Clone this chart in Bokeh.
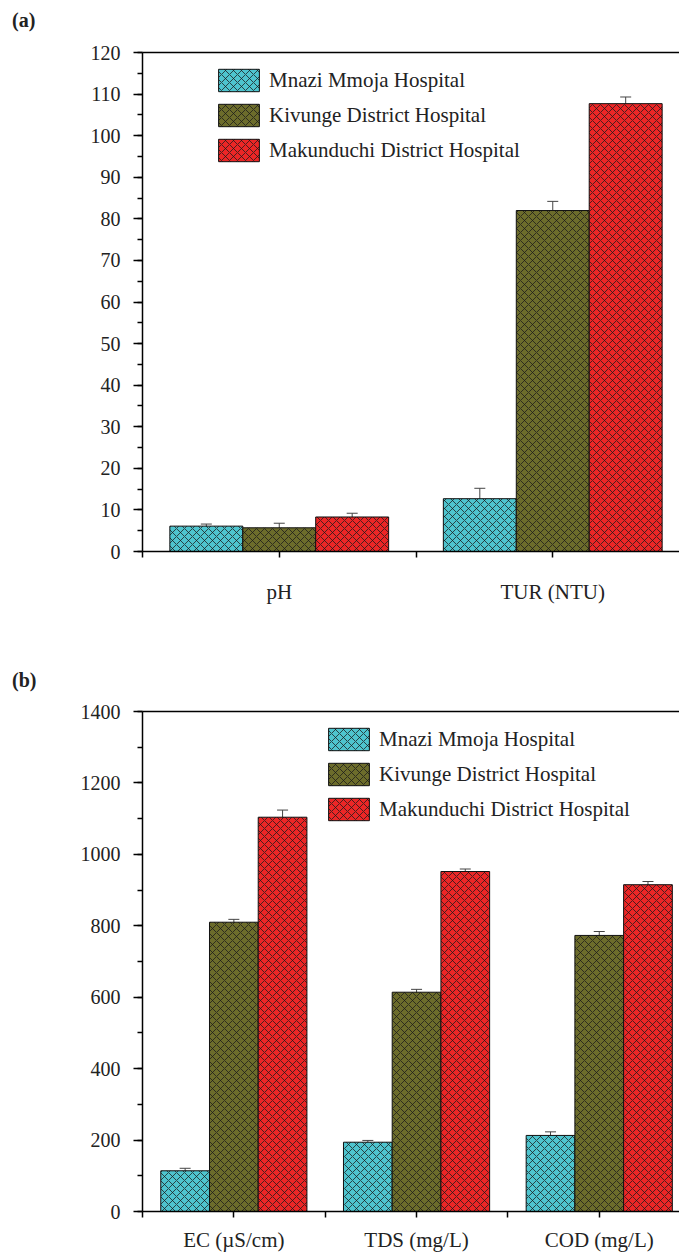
from bokeh.plotting import figure
from bokeh.models import (ColumnDataSource, Whisker, TeeHead, FixedTicker, SingleIntervalTicker,
                          LinearAxis, Legend, LegendItem, Range1d, Div)
from bokeh.layouts import column
from bokeh.embed import file_html
from bokeh.resources import INLINE

hospitals = ["Mnazi Mmoja Hospital", "Kivunge District Hospital", "Makunduchi District Hospital"]
colors = ["#4EC4CE", "#6C6C2B", "#EC2626"]

params_a = ["pH", "TUR (NTU)"]
mnazi_a = [6.1, 12.7]
mnazi_a_err = [0.5, 2.5]
kivunge_a = [5.7, 82.0]
kivunge_a_err = [1.1, 2.2]
makun_a = [8.3, 107.7]
makun_a_err = [0.9, 1.6]

params_b = ["EC (\u00b5S/cm)", "TDS (mg/L)", "COD (mg/L)"]
mnazi_b = [114, 194, 213]
mnazi_b_err = [7, 5, 10]
kivunge_b = [810, 614, 773]
kivunge_b_err = [8, 8, 11]
makun_b = [1104, 952, 915]
makun_b_err = [20, 7, 9]

FONT = "Liberation Serif"
TXT = "#222222"


def make_tag(tag):
    return Div(text="<b>%s</b>" % tag, width=679, height=40, margin=0,
               styles={"font-family": FONT, "font-size": "20px", "color": TXT,
                       "padding-left": "12px", "padding-top": "9px", "line-height": "23px",
                       "box-sizing": "border-box"})


def make_panel(params, series, errs, ymax, yint, xend, height, top, bottom, legend_loc, label_standoff):
    p = figure(width=679, height=height, output_backend="svg", toolbar_location=None,
               x_range=Range1d(0, xend), y_range=Range1d(0, ymax),
               min_border_left=142, min_border_right=0, min_border_top=top, min_border_bottom=bottom,
               x_axis_type=None, y_axis_type=None)
    p.title.visible = False
    p.outline_line_color = None
    p.xgrid.visible = False
    p.ygrid.visible = False
    p.background_fill_color = "white"
    p.border_fill_color = "white"

    w = 0.8 / 3
    offsets = [-w, 0.0, w]
    items = []
    for k, (vals, ev) in enumerate(zip(series, errs)):
        xs = [i + 0.5 + offsets[k] for i in range(len(params))]
        src = ColumnDataSource(dict(x=xs, top=vals, upper=[v + e for v, e in zip(vals, ev)],
                                    lower=[v - e for v, e in zip(vals, ev)]))
        r = p.vbar(x="x", top="top", width=w, bottom=0, source=src, fill_color=colors[k],
                   line_color="#111111", line_width=1, hatch_pattern="x", hatch_color="#1a1a1a",
                   hatch_alpha=0.75, hatch_scale=8, hatch_weight=1)
        items.append(LegendItem(label=hospitals[k], renderers=[r]))
        wh = Whisker(base="x", upper="upper", lower="lower", source=src, line_color="#444444",
                     line_width=1,
                     upper_head=TeeHead(size=11, line_color="#444444", line_width=1),
                     lower_head=TeeHead(size=11, line_color="#444444", line_width=1))
        p.add_layout(wh)

    # axes
    yaxis = LinearAxis(ticker=SingleIntervalTicker(interval=yint, num_minor_ticks=2))
    yaxis.axis_line_width = 1.5
    yaxis.major_tick_line_width = 1.5
    yaxis.minor_tick_line_width = 1.5
    yaxis.major_tick_out = 9
    yaxis.major_tick_in = 0
    yaxis.minor_tick_out = 5
    yaxis.minor_tick_in = 0
    yaxis.major_label_text_font = FONT
    yaxis.major_label_text_font_size = "20px"
    yaxis.major_label_text_color = TXT
    yaxis.major_label_standoff = 13
    p.add_layout(yaxis, "left")

    ticks = [i * 0.5 for i in range(2 * len(params) + 1)]
    overrides = {}
    for t in ticks:
        overrides[t] = ""
    for i, name in enumerate(params):
        overrides[i + 0.5] = name
    xaxis = LinearAxis(ticker=FixedTicker(ticks=ticks, minor_ticks=[]))
    xaxis.major_label_overrides = overrides
    xaxis.axis_line_width = 1.5
    xaxis.major_tick_line_width = 1.5
    xaxis.major_tick_out = 6
    xaxis.major_tick_in = 0
    xaxis.major_label_text_font = FONT
    xaxis.major_label_text_font_size = "21px"
    xaxis.major_label_text_color = TXT
    xaxis.major_label_standoff = label_standoff
    p.add_layout(xaxis, "below")

    topaxis = LinearAxis(ticker=FixedTicker(ticks=[]))
    topaxis.axis_line_width = 1.5
    topaxis.major_tick_line_color = None
    topaxis.minor_tick_line_color = None
    topaxis.major_label_text_font_size = "0px"
    topaxis.major_label_standoff = 0
    p.add_layout(topaxis, "above")

    legend = Legend(items=items, location=legend_loc, orientation="vertical")
    legend.glyph_width = 51
    legend.glyph_height = 28
    legend.label_height = 28
    legend.spacing = 7
    legend.padding = 0
    legend.margin = 0
    legend.label_standoff = 5
    legend.label_text_font = FONT
    legend.label_text_font_size = "21px"
    legend.label_text_color = TXT
    legend.border_line_color = None
    legend.background_fill_alpha = 0
    p.add_layout(legend, "center")
    return p


tag_a = make_tag("(a)")
pa = make_panel(params_a, [mnazi_a, kivunge_a, makun_a],
                [mnazi_a_err, kivunge_a_err, makun_a_err], 120, 10, 537 / 273.5,
                620, 12, 109, (71, 387), 22)
tag_b = make_tag("(b)")
pb = make_panel(params_b, [mnazi_b, kivunge_b, makun_b],
                [mnazi_b_err, kivunge_b_err, makun_b_err], 1400, 200, 537 / 182.7,
                555, 11, 44, (181, 388), 10)

layout = column(tag_a, pa, tag_b, pb, spacing=0)
open("out.html", "w").write(file_html(layout, INLINE))
